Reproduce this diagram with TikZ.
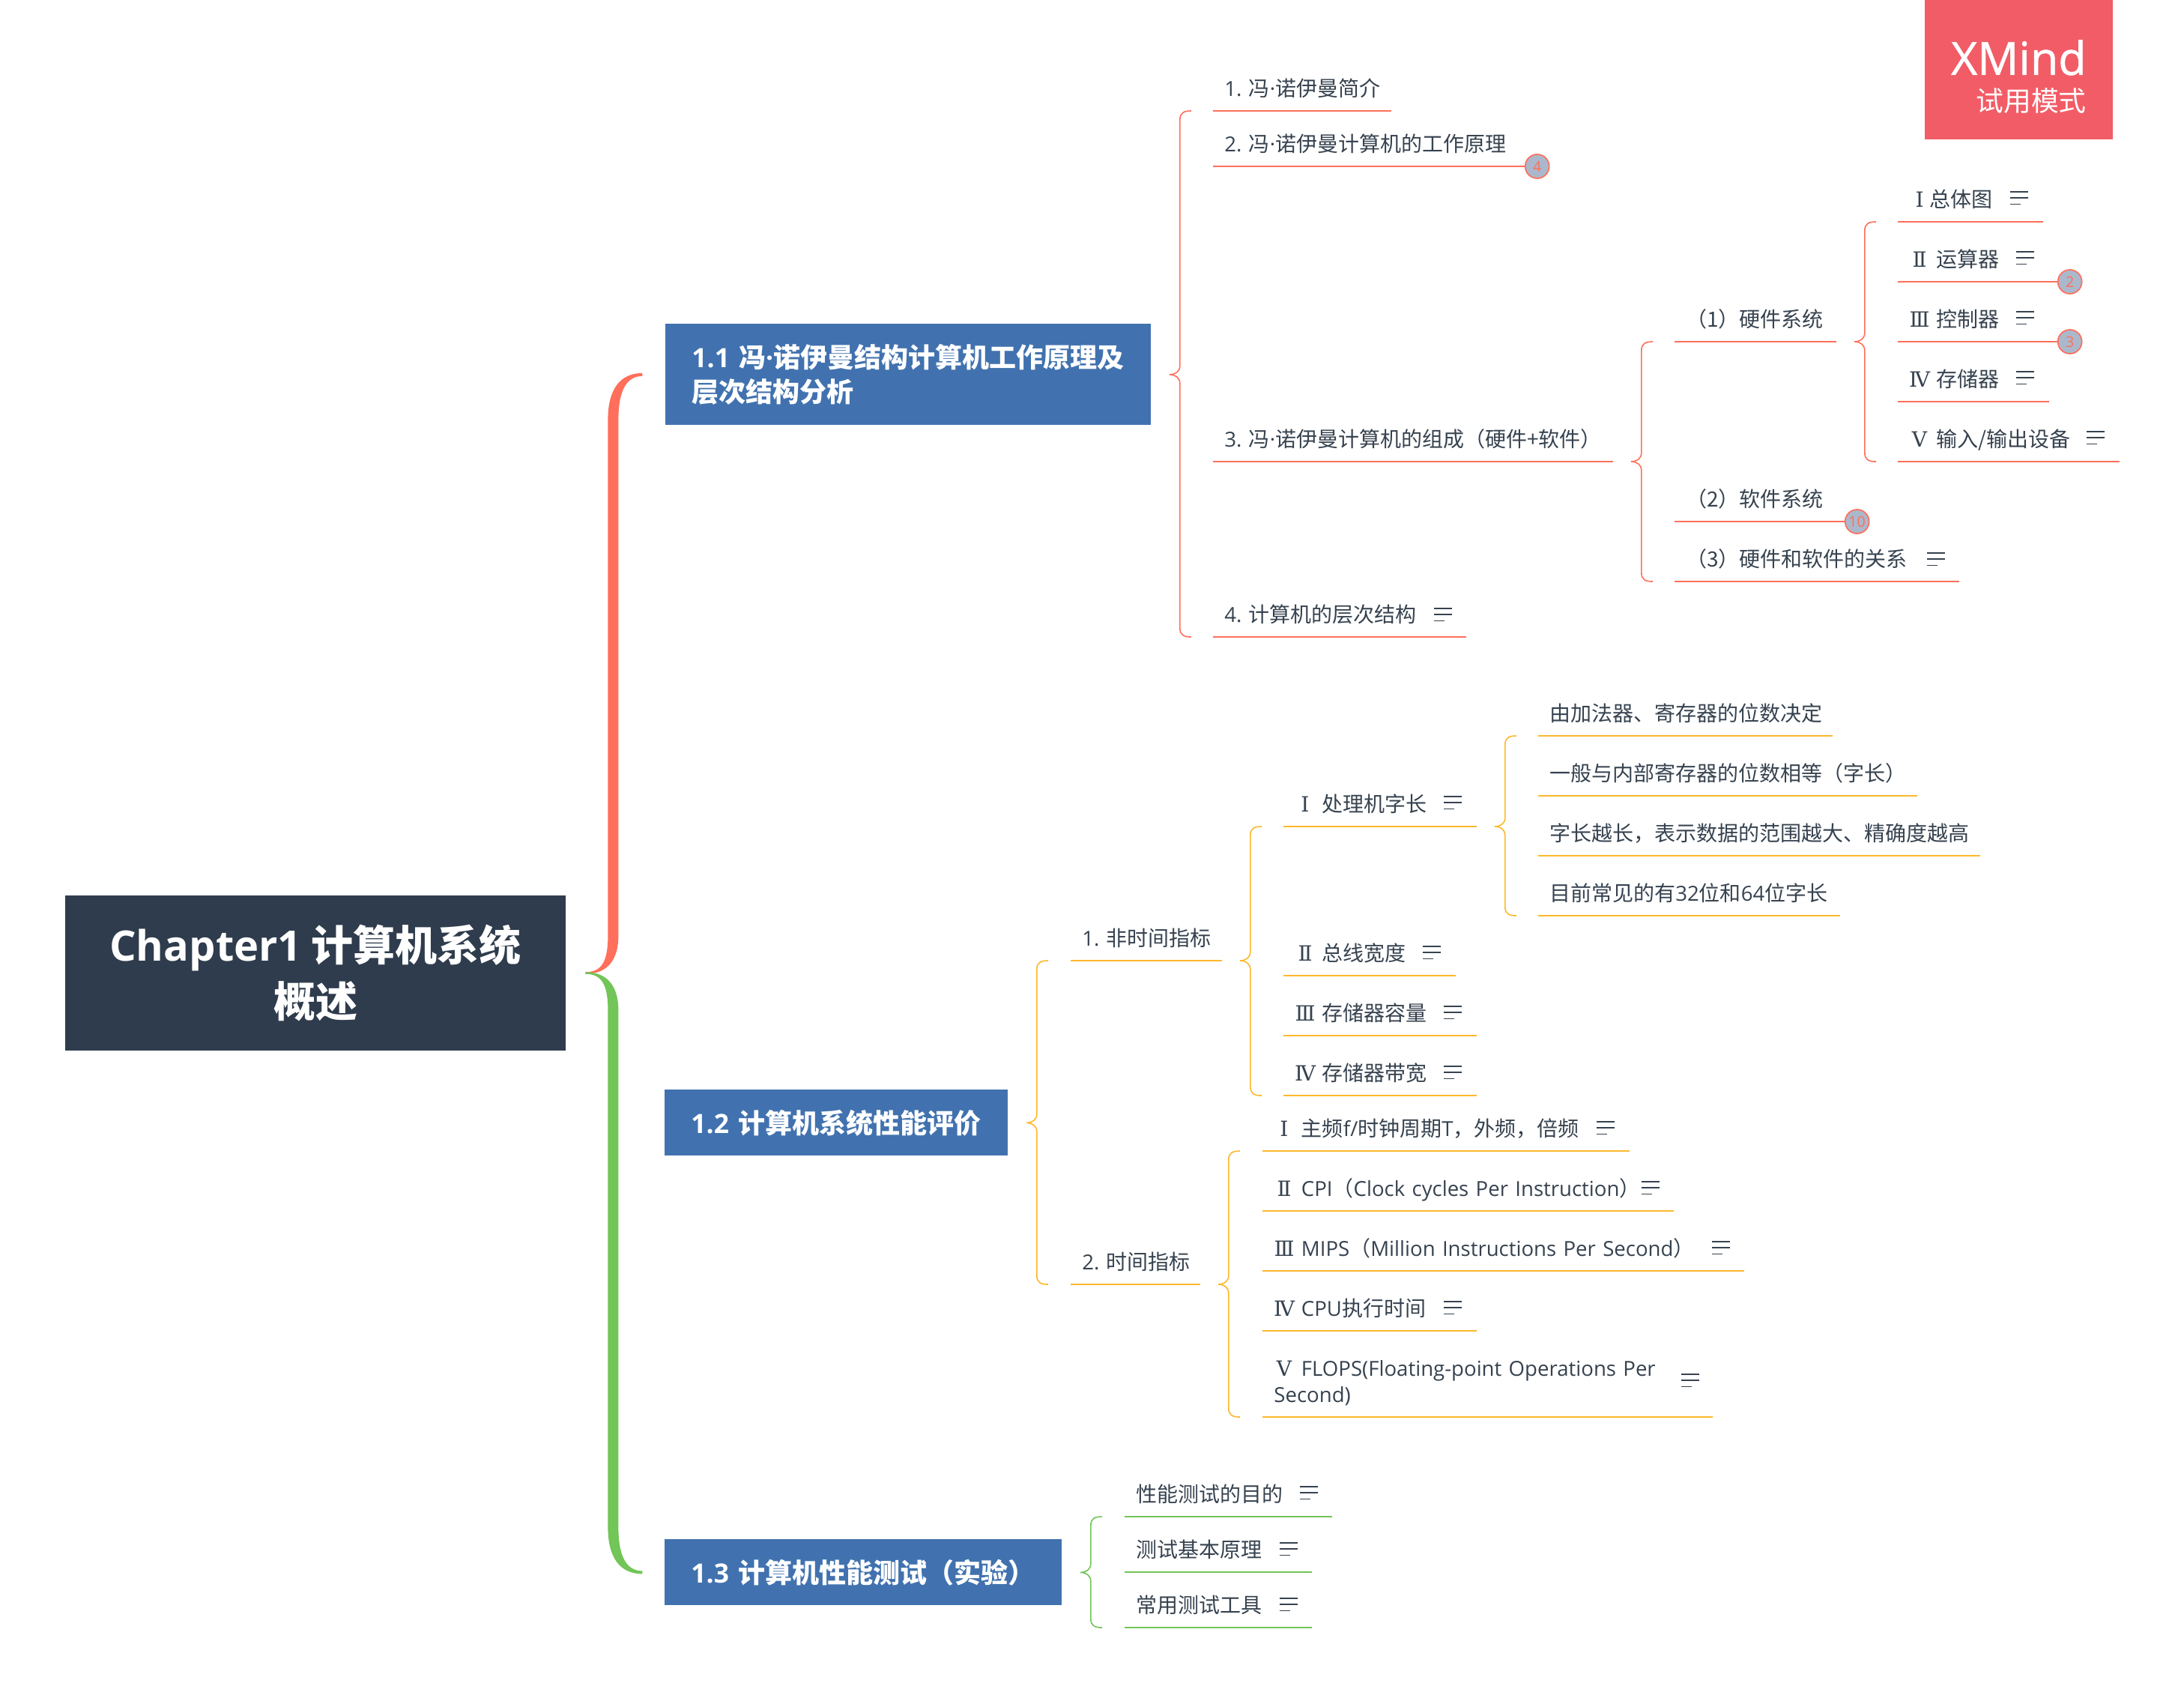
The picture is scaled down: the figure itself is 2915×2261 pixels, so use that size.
\documentclass[tikz,border=0pt]{standalone}
\usepackage{fontspec}
\setmainfont{Noto Sans CJK SC}
\newfontfamily\en[Scale=0.985]{Open Sans}
\newfontfamily\enb{Open Sans}
\newfontfamily\num{DejaVu Serif}
\newfontfamily\markfont[FakeBold=1]{Open Sans}
\usetikzlibrary{calc}

\definecolor{ink}{HTML}{36424F}
\definecolor{rootfill}{HTML}{2F3C4D}
\definecolor{boxfill}{HTML}{4172AF}
\definecolor{tomato}{HTML}{FF6F5B}
\definecolor{amber}{HTML}{FDB82C}
\definecolor{leaf}{HTML}{72C557}
\definecolor{badge}{HTML}{ABB8CC}
\definecolor{banner}{HTML}{F25C66}

\tikzset{
  rootbox/.style={fill=rootfill,text=white,font=\fontsize{28}{37.5}\selectfont\bfseries,align=center,inner sep=0pt},
  topbox/.style={fill=boxfill,text=white,font=\fontsize{18}{23.25}\selectfont\bfseries,align=left,inner xsep=17.5pt,inner ysep=0pt,anchor=north west},
  topic/.style={anchor=south west,text=ink,font=\fontsize{14}{17.5}\selectfont,text width=(#1-30)*0.5pt,inner xsep=7.5pt,inner ysep=6.5pt,text depth=3pt,align=left},
  redline/.style={draw=tomato,line width=1pt},
  amberline/.style={draw=amber,line width=1pt},
  leafline/.style={draw=leaf,line width=1pt},
  count/.style={circle,draw=tomato,fill=badge,text=tomato,line width=0.85pt,minimum size=16pt,inner sep=0pt,anchor=west,font=\en\fontsize{10}{10}\selectfont},
  notes/.pic={
    \draw[ink,line width=0.9pt] (-12,-8) -- (12,-8) (-12,0) -- (12,0) (-12,8.5) -- (2,8.5);
  }
}

\newcommand{\rnum}[1]{\makebox[13.6pt][c]{{\num #1}}}

% colour, root, branch, +1 going up or -1 going down
\newcommand{\mainbrace}[4]{
  \fill[#1] let \p1=(#2), \p2=(#3) in
    (\x1+13pt,\y1+#4*0.6pt) .. controls (\x1+24pt,\y1+#4*0.6pt) and (\x1+28pt,\y1+#4*8pt) .. (\x1+28pt,\y1+#4*25pt)
    -- (\x1+28pt,\y2-#4*30pt) .. controls (\x1+28pt,\y2-#4*10pt) and (\x1+36pt,\y2+#4*1pt) .. (\x1+51pt,\y2+#4*1pt)
    -- (\x1+51pt,\y2-#4*1pt) .. controls (\x1+42pt,\y2-#4*1pt) and (\x1+35pt,\y2-#4*8pt) .. (\x1+35pt,\y2-#4*30pt)
    -- (\x1+35pt,\y1+#4*25pt) .. controls (\x1+35pt,\y1+#4*8pt) and (\x1+27pt,\y1-#4*0.6pt) .. (\x1+13pt,\y1-#4*0.6pt) -- cycle;
}

% colour, parent, first child, last child
\newcommand{\subbrace}[4]{
  \draw[#1,line width=0.8pt] let \p1=(#2), \p2=(#3), \p3=(#4) in
    (\x1+26.5pt,\y2) .. controls (\x1+22pt,\y2) and (\x1+19pt,\y2-1pt) .. (\x1+19pt,\y2-6pt)
    -- (\x1+19pt,\y1+6pt) .. controls (\x1+19pt,\y1+2pt) and (\x1+16pt,\y1) .. (\x1+12pt,\y1)
    .. controls (\x1+16pt,\y1) and (\x1+19pt,\y1-2pt) .. (\x1+19pt,\y1-6pt)
    -- (\x1+19pt,\y3+6pt) .. controls (\x1+19pt,\y3+1pt) and (\x1+22pt,\y3) .. (\x1+26.5pt,\y3);
}

\begin{document}
\begin{tikzpicture}[x=0.5pt,y=-0.5pt]
  \useasboundingbox (0,0) rectangle (2915,2261);

  % trial mark
  \node (mark) [fill=banner,anchor=north west,minimum width=125.75pt,minimum height=93pt,inner sep=0pt] at (2568.5,0) {};
  \node (marka) [text=white,anchor=east,inner sep=0pt,font=\markfont\fontsize{30.5}{31}\selectfont] at (2785,77) {XMind};
  \node (markb) [text=white,anchor=east,inner sep=0pt,font=\fontsize{18.4}{20}\selectfont] at (2785,135) {试用模式};

  % centre and main branches
  \node (root) [rootbox,minimum width=334pt,minimum height=103.5pt] at (421,1298.5) {{\enb Chapter1} 计算机系统\\概述};
  \node (s1) [topbox,minimum width=324pt,minimum height=67.5pt,text width=289pt] at (888,432) {{\en 1.1} 冯{\en ·}诺伊曼结构计算机工作原理及\\层次结构分析};
  \node (s2) [topbox,minimum width=229pt,minimum height=44pt,text width=194pt] at (887,1454) {{\en 1.2} 计算机系统性能评价};
  \node (s3) [topbox,minimum width=265pt,minimum height=44pt,text width=230pt] at (887,2054) {{\en 1.3} 计算机性能测试（实验）};

  \mainbrace{tomato}{root.east}{s1.west}{1}
  \mainbrace{leaf}{root.east}{s3.west}{-1}

  % 1.1
  \node (a1) [topic=237] at (1619,148) {{\en 1.~}冯{\en ·}诺伊曼简介};
  \node (a2) [topic=415] at (1619,222) {{\en 2.~}冯{\en ·}诺伊曼计算机的工作原理};
  \node (a3) [topic=533] at (1619,616) {{\en 3.~}冯{\en ·}诺伊曼计算机的组成（硬件+软件）};
  \node (a4) [topic=337] at (1619,850) {{\en 4.~}计算机的层次结构};
  \node (a2n) [count] at (a2.south east) {4};
  \pic at (1926,820) {notes};

  \node (b1) [topic=215] at (2235,456) {（1）硬件系统};
  \node (b2) [topic=226] at (2235,696) {（2）软件系统};
  \node (b3) [topic=379] at (2235,776) {（3）硬件和软件的关系};
  \node (b2n) [count] at (b2.south east) {10};
  \pic at (2584,746) {notes};

  \node (c1) [topic=193] at (2533,296) {\rnum{Ⅰ}总体图};
  \node (c2) [topic=212] at (2533,376) {\rnum{Ⅱ} 运算器};
  \node (c3) [topic=212] at (2533,456) {\rnum{Ⅲ} 控制器};
  \node (c4) [topic=201] at (2533,536) {\rnum{Ⅳ} 存储器};
  \node (c5) [topic=295] at (2533,616) {\rnum{Ⅴ} 输入/输出设备};
  \node (c2n) [count] at (c2.south east) {2};
  \node (c3n) [count] at (c3.south east) {3};
  \pic at (2695,264) {notes};
  \pic at (2703,344) {notes};
  \pic at (2703,424) {notes};
  \pic at (2703,504) {notes};
  \pic at (2797,584) {notes};

  \draw[redline] (a1.south west) -- (a1.south east) (a2.south west) -- (a2.south east) (a3.south west) -- (a3.south east) (a4.south west) -- (a4.south east);
  \draw[redline] (b1.south west) -- (b1.south east) (b2.south west) -- (b2.south east) (b3.south west) -- (b3.south east);
  \draw[redline] (c1.south west) -- (c1.south east) (c2.south west) -- (c2.south east) (c3.south west) -- (c3.south east) (c4.south west) -- (c4.south east) (c5.south west) -- (c5.south east);

  \subbrace{tomato}{s1.east}{a1.south west}{a4.south west}
  \subbrace{tomato}{a3.south east}{b1.south west}{b3.south west}
  \subbrace{tomato}{b1.south east}{c1.south west}{c5.south west}

  % 1.2
  \node (d1) [topic=201] at (1429,1282) {{\en 1.~}非时间指标};
  \node (d2) [topic=172] at (1429,1714) {{\en 2.~}时间指标};

  \node (e1) [topic=257] at (1713,1103) {\rnum{Ⅰ} 处理机字长};
  \node (e2) [topic=229] at (1713,1302) {\rnum{Ⅱ} 总线宽度};
  \node (e3) [topic=257] at (1713,1382) {\rnum{Ⅲ} 存储器容量};
  \node (e4) [topic=257] at (1713,1462) {\rnum{Ⅳ} 存储器带宽};
  \pic at (1939,1071) {notes};
  \pic at (1911,1271) {notes};
  \pic at (1939,1351) {notes};
  \pic at (1939,1431) {notes};

  \node (f1) [topic=392] at (2053,982) {由加法器、寄存器的位数决定};
  \node (f2) [topic=505] at (2053,1062) {一般与内部寄存器的位数相等（字长）};
  \node (f3) [topic=589] at (2053,1142) {字长越长，表示数据的范围越大、精确度越高};
  \node (f4) [topic=402] at (2053,1222) {目前常见的有{\en 32}位和{\en 64}位字长};

  \node (g1) [topic=489] at (1685,1536) {\rnum{Ⅰ} 主频{\en f/}时钟周期{\en T}，外频，倍频};
  \node (g2) [topic=548] at (1685,1616) {\rnum{Ⅱ} {\en CPI}（{\en Clock cycles Per Instruction}）};
  \node (g3) [topic=642] at (1685,1696) {\rnum{Ⅲ} {\en MIPS}（{\en Million Instructions Per Second}）};
  \node (g4) [topic=285] at (1685,1776) {\rnum{Ⅳ} {\en CPU}执行时间};
  \node (g5) [topic=600,text depth=20.5pt] at (1685,1891) {\rnum{Ⅴ} {\en FLOPS(Floating-point Operations Per\\Second)}};
  \pic at (2143,1505) {notes};
  \pic at (2203,1585) {notes};
  \pic at (2297,1665) {notes};
  \pic at (1939,1745) {notes};
  \pic at (2256,1842) {notes};

  \draw[amberline] (d1.south west) -- (d1.south east) (d2.south west) -- (d2.south east);
  \draw[amberline] (e1.south west) -- (e1.south east) (e2.south west) -- (e2.south east) (e3.south west) -- (e3.south east) (e4.south west) -- (e4.south east);
  \draw[amberline] (f1.south west) -- (f1.south east) (f2.south west) -- (f2.south east) (f3.south west) -- (f3.south east) (f4.south west) -- (f4.south east);
  \draw[amberline] (g1.south west) -- (g1.south east) (g2.south west) -- (g2.south east) (g3.south west) -- (g3.south east) (g4.south west) -- (g4.south east) (g5.south west) -- (g5.south east);

  \subbrace{amber}{s2.east}{d1.south west}{d2.south west}
  \subbrace{amber}{d1.south east}{e1.south west}{e4.south west}
  \subbrace{amber}{e1.south east}{f1.south west}{f4.south west}
  \subbrace{amber}{d2.south east}{g1.south west}{g5.south west}

  % 1.3
  \node (h1) [topic=276] at (1501,2024) {性能测试的目的};
  \node (h2) [topic=249] at (1501,2098) {测试基本原理};
  \node (h3) [topic=249] at (1501,2172) {常用测试工具};
  \pic at (1747,1992) {notes};
  \pic at (1720,2067) {notes};
  \pic at (1720,2141) {notes};

  \draw[leafline] (h1.south west) -- (h1.south east) (h2.south west) -- (h2.south east) (h3.south west) -- (h3.south east);
  \subbrace{leaf}{s3.east}{h1.south west}{h3.south west}
\end{tikzpicture}
\end{document}
